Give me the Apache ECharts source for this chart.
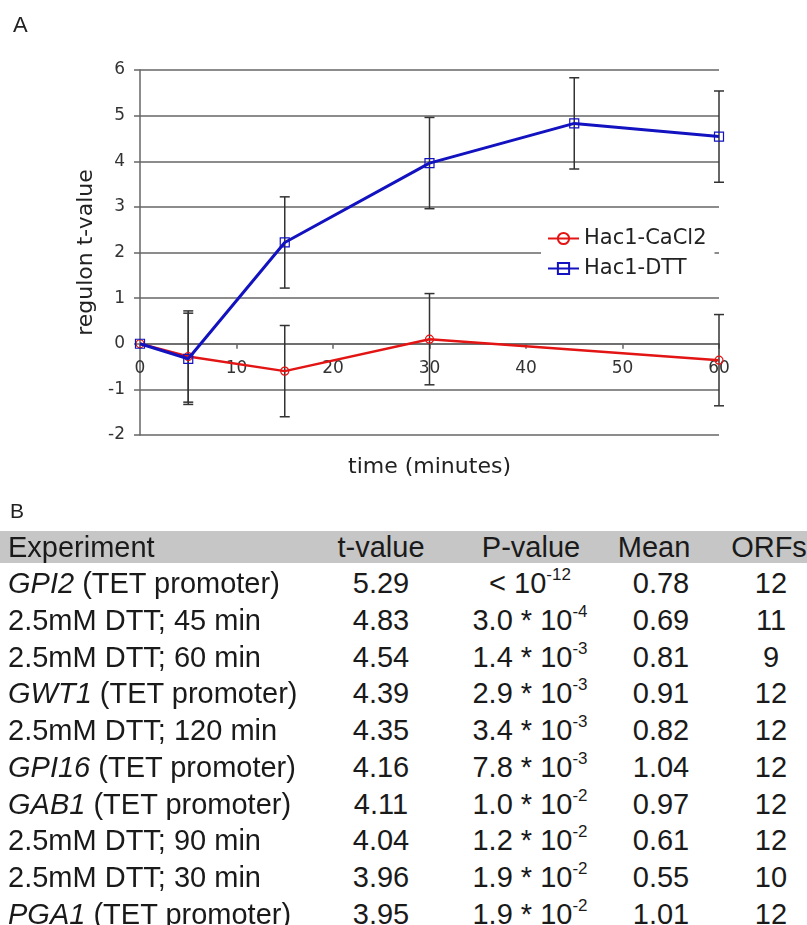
<!DOCTYPE html>
<html>
<head>
<meta charset="utf-8">
<script src="https://cdn.jsdelivr.net/npm/echarts@6/dist/echarts.min.js"></script>
<style>
  html, body { margin: 0; padding: 0; background: #fff; }
  #page { position: relative; width: 807px; height: 925px; overflow: hidden; }
  #chart { position: absolute; left: 0; top: 0; width: 807px; height: 500px; }
  .panel { position: absolute; font-family: 'Liberation Sans', Arial, sans-serif; font-size: 21px; line-height: 21px; color: #222; }
  #band { position: absolute; left: 0; top: 531px; width: 807px; height: 32px; background: #c6c6c6; }
  .row { position: absolute; left: 0; width: 807px; height: 36.7px; line-height: 36.7px;
         font-family: 'Liberation Sans', Arial, sans-serif; font-size: 29px; color: #1a1a1a; white-space: nowrap; }
  .cell { position: absolute; top: 0; }
  .c { transform: translateX(-50%); }
  .sup { position: relative; top: -13px; font-size: 17px; }
</style>
</head>
<body>
<div id="page">
  <div id="chart"></div>
  <div class="panel" style="left:10px; top:500px;">B</div>
  <div id="band"></div>
  <div id="table"></div>
</div>
<script>
// panel A: regulon t-value over time
const timeCaCl2 = [0, 5, 15, 30, 60];
const valCaCl2 = [0, -0.28, -0.6, 0.1, -0.36];
const errCaCl2 = [0, 1, 1, 1, 1];

const timeDTT = [0, 5, 15, 30, 45, 60];
const valDTT = [0, -0.33, 2.22, 3.96, 4.83, 4.54];
const errDTT = [0, 1, 1, 1, 1, 1];

const seriesNames = ['Hac1-CaCl2', 'Hac1-DTT'];

// panel B: table
const headers = ['Experiment', 't-value', 'P-value', 'Mean', 'ORFs'];
const expGene = ['GPI2', '', '', 'GWT1', '', 'GPI16', 'GAB1', '', '', 'PGA1'];
const expText = [' (TET promoter)', '2.5mM DTT; 45 min', '2.5mM DTT; 60 min', ' (TET promoter)',
  '2.5mM DTT; 120 min', ' (TET promoter)', ' (TET promoter)', '2.5mM DTT; 90 min',
  '2.5mM DTT; 30 min', ' (TET promoter)'];
const tValues = ['5.29', '4.83', '4.54', '4.39', '4.35', '4.16', '4.11', '4.04', '3.96', '3.95'];
const pMantissa = [null, '3.0', '1.4', '2.9', '3.4', '7.8', '1.0', '1.2', '1.9', '1.9'];
const pExponent = [-12, -4, -3, -3, -3, -3, -2, -2, -2, -2];
const means = ['0.78', '0.69', '0.81', '0.91', '0.82', '1.04', '0.97', '0.61', '0.55', '1.01'];
const orfs = [12, 11, 9, 12, 12, 12, 12, 12, 10, 12];

const RED = '#e31414';
const BLUE = '#1212c0';
const GRID = '#666';
const FONT = 'DejaVu Sans';

// grid: top 70, bottom edge 435, y from -2 to 6 -> zero line sits 2/8 of the height above the bottom
const gridTop = 70, gridBottom = 65, yMin = -2, yMax = 6;
const zeroOffset = (925 - 425 - gridTop - gridBottom) * (0 - yMin) / (yMax - yMin);

const errData = (xs, vs, es) => xs
  .map((x, i) => [x, vs[i] - es[i], vs[i] + es[i]])
  .filter((d, i) => es[i] > 0);

function renderErr(params, api) {
  const x = api.value(0);
  const lo = api.coord([x, api.value(1)]);
  const hi = api.coord([x, api.value(2)]);
  const cap = 5;
  const style = { stroke: '#333', lineWidth: 1.5 };
  return {
    type: 'group',
    children: [
      { type: 'line', shape: { x1: lo[0], y1: lo[1], x2: hi[0], y2: hi[1] }, style },
      { type: 'line', shape: { x1: hi[0] - cap, y1: hi[1], x2: hi[0] + cap, y2: hi[1] }, style },
      { type: 'line', shape: { x1: lo[0] - cap, y1: lo[1], x2: lo[0] + cap, y2: lo[1] }, style }
    ]
  };
}

const chart = echarts.init(document.getElementById('chart'), null, { renderer: 'canvas' });
chart.setOption({
  animation: false,
  textStyle: { fontFamily: FONT },
  graphic: [{
    type: 'text', left: 13, top: 15,
    style: { text: 'A', font: '22px "Liberation Sans"', fill: '#222' }
  }],
  grid: { left: 140, right: 88, top: gridTop, bottom: gridBottom, outerBoundsMode: 'none', containLabel: false },
  legend: {
    data: seriesNames,
    orient: 'vertical',
    left: 541, top: 222,
    padding: [6, 8, 6, 6],
    itemGap: 9,
    itemWidth: 31, itemHeight: 14,
    backgroundColor: '#fff',
    textStyle: { fontFamily: FONT, fontSize: 21, color: '#222' }
  },
  xAxis: {
    type: 'value', min: 0, max: 60, interval: 10,
    offset: -zeroOffset,
    name: 'time (minutes)', nameLocation: 'middle', nameGap: 113,
    nameTextStyle: { fontFamily: FONT, fontSize: 22, color: '#222' },
    axisLine: { onZero: false, lineStyle: { color: GRID, width: 1.5 } },
    axisTick: { show: true, length: 5, lineStyle: { color: GRID, width: 1.5 } },
    axisLabel: { fontFamily: FONT, fontSize: 17, color: '#333', margin: 16 },
    splitLine: { show: false }
  },
  yAxis: {
    type: 'value', min: yMin, max: yMax, interval: 1,
    name: 'regulon t-value', nameLocation: 'middle', nameGap: 33,
    nameTextStyle: { fontFamily: FONT, fontSize: 22, color: '#222' },
    axisLine: { show: true, onZero: false, lineStyle: { color: GRID, width: 1.5 } },
    axisTick: { show: true, length: 6, lineStyle: { color: GRID, width: 1.5 } },
    axisLabel: { fontFamily: FONT, fontSize: 17, color: '#333', margin: 15 },
    splitLine: { show: true, lineStyle: { color: GRID, width: 1.5 } }
  },
  series: [
    {
      type: 'custom', renderItem: renderErr, z: 3, silent: true,
      data: errData(timeCaCl2, valCaCl2, errCaCl2)
    },
    {
      type: 'custom', renderItem: renderErr, z: 3, silent: true,
      data: errData(timeDTT, valDTT, errDTT)
    },
    {
      name: seriesNames[0], type: 'line', z: 4,
      data: timeCaCl2.map((t, i) => [t, valCaCl2[i]]),
      symbol: 'circle', symbolSize: 8, showAllSymbol: true,
      lineStyle: { color: RED, width: 2.5 },
      itemStyle: { color: 'rgba(255,255,255,0)', borderColor: RED, borderWidth: 1.2 }
    },
    {
      name: seriesNames[1], type: 'line', z: 5,
      data: timeDTT.map((t, i) => [t, valDTT[i]]),
      symbol: 'rect', symbolSize: 9, showAllSymbol: true,
      lineStyle: { color: BLUE, width: 3 },
      itemStyle: { color: 'rgba(255,255,255,0)', borderColor: BLUE, borderWidth: 1.2 }
    }
  ]
});

// table rows
const table = document.getElementById('table');
const rowTop0 = 528.6, rowStep = 36.7;
const colExp = 8, colT = 381, colP = 530, colMean = 661, colOrf = 771;
const headerPos = [colExp, 381, 531, 654, 769];

function addRow(i, cells) {
  const row = document.createElement('div');
  row.className = 'row';
  row.style.top = (rowTop0 + rowStep * i) + 'px';
  cells.forEach(([x, html, center]) => {
    const s = document.createElement('span');
    s.className = 'cell' + (center ? ' c' : '');
    s.style.left = x + 'px';
    s.innerHTML = html;
    row.appendChild(s);
  });
  table.appendChild(row);
}

addRow(0, headers.map((h, k) => [headerPos[k], h, k > 0]));
expText.forEach((txt, i) => {
  const exp = (expGene[i] ? '<i>' + expGene[i] + '</i>' : '') + txt;
  const p = pMantissa[i] === null
    ? '&lt; 10<span class="sup">' + pExponent[i] + '</span>'
    : pMantissa[i] + ' * 10<span class="sup">' + pExponent[i] + '</span>';
  addRow(i + 1, [
    [colExp, exp, false],
    [colT, tValues[i], true],
    [colP, p, true],
    [colMean, means[i], true],
    [colOrf, String(orfs[i]), true]
  ]);
});
</script>
</body>
</html>
